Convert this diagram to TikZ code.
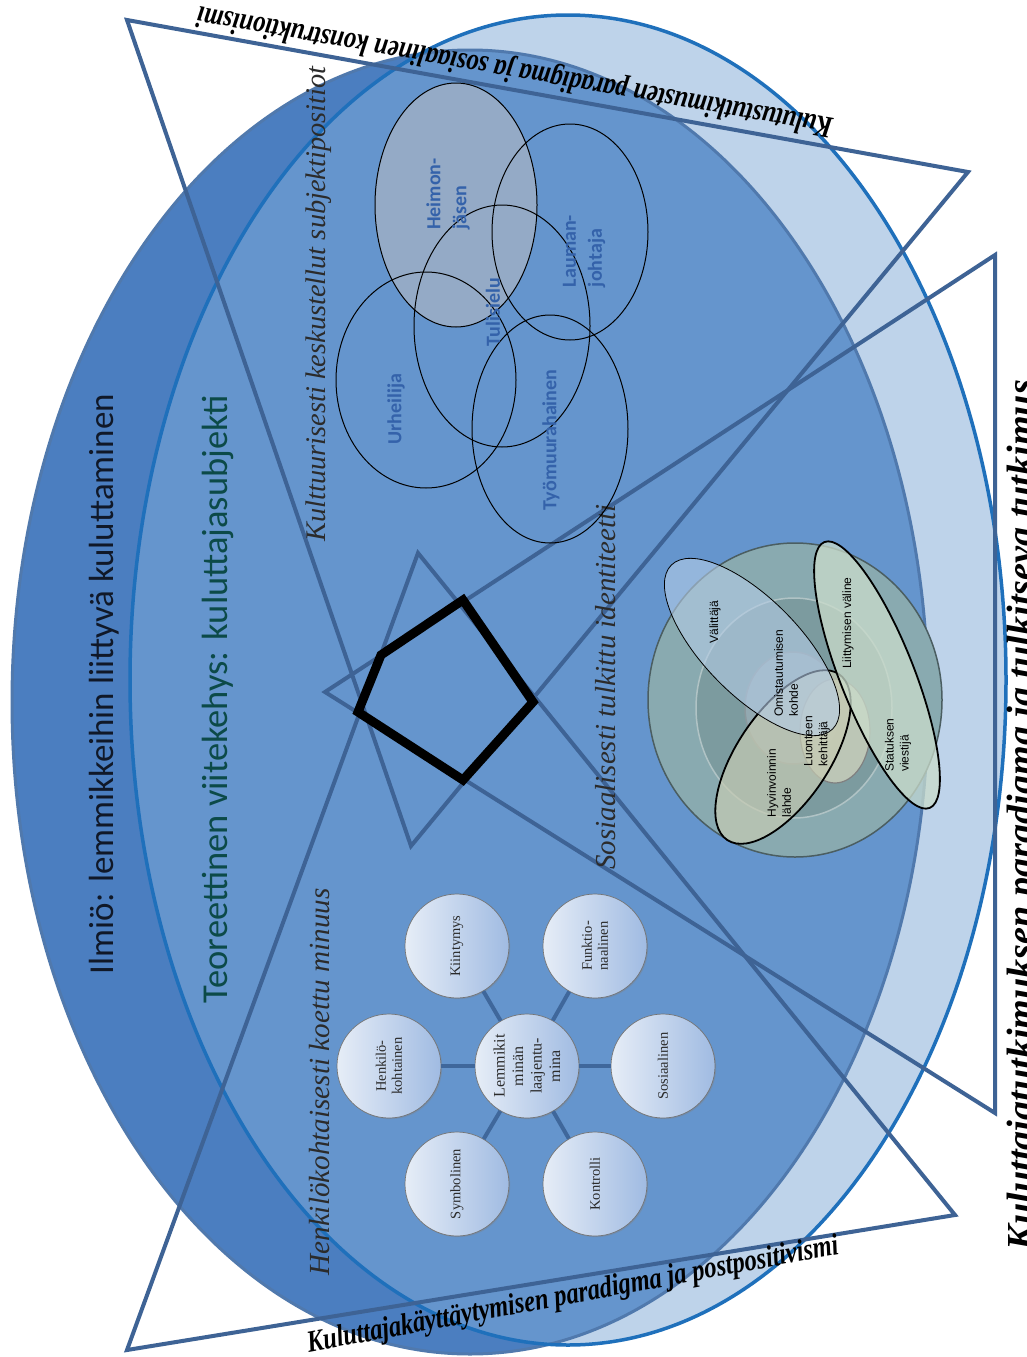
\documentclass[tikz,border=0pt]{standalone}
\usepackage{fontspec}
\usepackage{graphicx}
\usetikzlibrary{shadows}
\newfontfamily\calibri{Carlito}
\newfontfamily\arialf{Liberation Sans}
\newfontfamily\timesf{Liberation Serif}

\definecolor{lightB}{HTML}{BED3EA}
\definecolor{darkA}{HTML}{4B7EC0}
\definecolor{midAB}{HTML}{6595CD}
\definecolor{rimB}{HTML}{1F70BB}
\definecolor{rimA}{HTML}{5079AD}
\definecolor{triline}{HTML}{3E6395}
\definecolor{vennfill}{HTML}{94AAC6}
\definecolor{venntext}{HTML}{3462AA}
\definecolor{ringO}{HTML}{89AAB0}
\definecolor{ringM}{HTML}{7C9B9F}
\definecolor{ringI}{HTML}{93A9B1}
\definecolor{ovBlue}{HTML}{B4CCE6}
\definecolor{ovGreen}{HTML}{CADCCB}
\definecolor{ovSand}{HTML}{C6CBB3}
\definecolor{ovPale}{HTML}{CDD1BC}
\definecolor{bubL}{HTML}{E6EDF7}
\definecolor{bubR}{HTML}{A0BBE2}
\definecolor{spoke}{HTML}{3F679B}
\definecolor{lbl}{HTML}{2B2B2B}
\definecolor{ilmtxt}{HTML}{101828}
\definecolor{theorytxt}{HTML}{0C4A48}

% scale a one-line label to a given width (in pt)
\newcommand{\fitw}[2]{\resizebox{#1pt}{!}{#2}}
% condensed version for the paradigm captions
\newcommand{\fitc}[2]{\resizebox{#1pt}{!}{\scalebox{0.8}[1]{#2}}}

\begin{document}
\begin{tikzpicture}[x=1pt,y=1pt,
  tri/.style={draw=triline,line width=4pt,line join=miter},
  vlbl/.style={rotate=90,inner sep=0pt,font=\calibri\bfseries\fontsize{20}{26}\selectfont,text=venntext,align=left},
  rlbl/.style={rotate=90,inner sep=0pt,font=\arialf\fontsize{12}{15}\selectfont,text=black,align=left},
  bubble/.style={circle,minimum size=104pt,inner sep=0pt,left color=bubL,right color=bubR,draw=black!55,line width=0.7pt,
    drop shadow={opacity=0.35,shadow xshift=1.2pt,shadow yshift=-1.2pt}},
  bubtxt/.style={rotate=90,inner sep=0pt,align=center,text=lbl,font=\timesf\fontsize{14.5}{16}\selectfont},
  spokeln/.style={draw=spoke,line width=4pt},
  itlbl/.style={rotate=90,inner sep=0pt,text=lbl,font=\timesf\itshape},
  para/.style={inner sep=0pt,text=black,font=\timesf\bfseries\itshape},
  venn/.style={draw=black,line width=1pt}
]
\useasboundingbox (0,0) rectangle (1026,-1357);
\fill[white] (0,0) rectangle (1026,-1357);

% the two large ellipses
\fill[lightB] (568,-680) ellipse [x radius=438,y radius=665];
\fill[darkA] (470,-702) ellipse [x radius=458,y radius=652];
\begin{scope}
  \clip (568,-680) ellipse [x radius=438,y radius=665];
  \fill[midAB] (470,-702) ellipse [x radius=458,y radius=652];
\end{scope}
\draw[rimA,line width=3pt] (470,-702) ellipse [x radius=458,y radius=652];
\draw[rimB,line width=3.5pt] (568,-680) ellipse [x radius=438,y radius=665];

% three paradigm triangles
\coordinate (t1a) at (127,-20);  \coordinate (t1b) at (968,-172);  \coordinate (t1c) at (411,-846);
\coordinate (t2a) at (127,-1350);\coordinate (t2b) at (955,-1215); \coordinate (t2c) at (418,-553);
\coordinate (t3a) at (995,-255); \coordinate (t3b) at (995,-1113); \coordinate (t3c) at (325,-692);
\draw[tri] (t1a) -- (t1b) -- (t1c) -- cycle;
\draw[tri] (t2a) -- (t2b) -- (t2c) -- cycle;
\draw[tri] (t3a) -- (t3b) -- (t3c) -- cycle;

% central pentagon
\draw[line width=9pt,line join=miter] (463,-600) -- (533,-702) -- (463,-780) -- (358,-712) -- (381,-655) -- cycle;

% paradigm labels
\node[para,rotate=170] (ptop) at (515,-70) {\fitc{645}{Kulutustutkimusten paradigma ja sosiaalinen konstruktionismi}};
\node[para,rotate=10.5] (pbot) at (573,-1296) {\fitc{540}{Kuluttajakäyttäytymisen paradigma ja postpositivismi}};
\node[para,rotate=90,anchor=north] (pright) at (1007,-815) {\fitw{870}{Kuluttajatutkimuksen paradigma ja tulkitseva tutkimus}};

% large headings
\node[rotate=90,inner sep=0pt,text=ilmtxt,font=\calibri] (ilmio) at (104,-684) {\fitw{580}{Ilmiö: lemmikkeihin liittyvä kuluttaminen}};
\node[rotate=90,inner sep=0pt,text=theorytxt,font=\calibri] (teoria) at (218,-699) {\fitw{608}{Teoreettinen viitekehys: kuluttajasubjekti}};

% italic section labels
\node[itlbl] (kult) at (319,-304) {\fitw{475}{Kulttuurisesti keskustellut subjektipositiot}};
\node[itlbl] (sos) at (606,-687) {\fitw{365}{Sosiaalisesti tulkittu identiteetti}};
\node[itlbl] (henk) at (320,-1082) {\fitw{387}{Henkilökohtaisesti koettu minuus}};

% subject positions (Venn)
\fill[vennfill] (456,-205) ellipse [x radius=81,y radius=122];
\draw[venn] (456,-205) ellipse [x radius=81,y radius=122];
\draw[venn] (570,-232) ellipse [x radius=78,y radius=108];
\draw[venn] (502,-326) ellipse [x radius=88,y radius=121];
\draw[venn] (426,-380) ellipse [x radius=90,y radius=108];
\draw[venn] (550,-429) ellipse [x radius=78,y radius=114];
\node[vlbl] (heimo) at (448,-194) {Heimon-\\jäsen};
\node[vlbl] (lauma) at (584,-251) {Lauman-\\johtaja};
\node[vlbl] (tuli) at (493,-312) {Tulisielu};
\node[vlbl] (urh) at (396,-409) {Urheilija};
\node[vlbl] (tyo) at (551,-440) {Työmuurahainen};

% identity rings
\filldraw[fill=ringO,draw=black!45!ringO,line width=1.5pt] (795,-700) ellipse [x radius=147,y radius=157];
\filldraw[fill=ringM,draw=ringM!60!white,line width=1.5pt] (794,-708) ellipse [x radius=98,y radius=110];
\filldraw[fill=ringI,draw=ringI!60!gray,line width=1.5pt] (793,-708) ellipse [x radius=48,y radius=56];
\filldraw[fill=ovPale,fill opacity=0.8,draw=black!50,line width=1.2pt] (835,-731) ellipse [x radius=35,y radius=52];
\filldraw[fill=ovSand,fill opacity=0.7,draw=black,line width=1.8pt,rotate around={56:(783,-757)}] (783,-757) ellipse [x radius=100,y radius=46];
\filldraw[fill=ovBlue,fill opacity=0.6,draw=black,line width=0.8pt,rotate around={-45.5:(752,-647)}] (752,-647) ellipse [x radius=115,y radius=48];
\filldraw[fill=ovGreen,fill opacity=0.75,draw=black,line width=1.8pt,rotate around={-68.4:(877,-675)}] (877,-675) ellipse [x radius=143,y radius=37];
\node[rlbl] (valit) at (715,-622) {Välittäjä};
\node[rlbl] (omist) at (786,-673) {Omistautumisen\\kohde};
\node[rlbl] (luonne) at (817,-741) {Luonteen\\kehittäjä};
\node[rlbl] (hyvin) at (779,-783) {Hyvinvoinnin\\lähde};
\node[rlbl] (liitty) at (848,-623) {Liittymisen väline};
\node[rlbl] (status) at (898,-745) {Statuksen\\viestijä};

% extended self (bubbles)
\node[bubble] (lem) at (527,-1066) {};
\node[bubble] (kiin) at (457,-946) {};
\node[bubble] (funk) at (595,-946) {};
\node[bubble] (henkb) at (389,-1066) {};
\node[bubble] (sosb) at (663,-1066) {};
\node[bubble] (symb) at (457,-1184) {};
\node[bubble] (kont) at (595,-1184) {};
\foreach \n in {kiin,funk,henkb,sosb,symb,kont}{\draw[spokeln] (lem) -- (\n);}
\node[bubtxt,font=\timesf\fontsize{16}{18.5}\selectfont] (lemt) at (lem) {Lemmikit\\minän\\laajentu-\\mina};
\node[bubtxt] (kiint) at (kiin) {Kiintymys};
\node[bubtxt] (funkt) at (funk) {Funktio-\\naalinen};
\node[bubtxt] (henkt) at (henkb) {Henkilö-\\kohtainen};
\node[bubtxt] (sost) at (sosb) {Sosiaalinen};
\node[bubtxt] (symt) at (symb) {Symbolinen};
\node[bubtxt] (kontt) at (kont) {Kontrolli};
\end{tikzpicture}
\end{document}
